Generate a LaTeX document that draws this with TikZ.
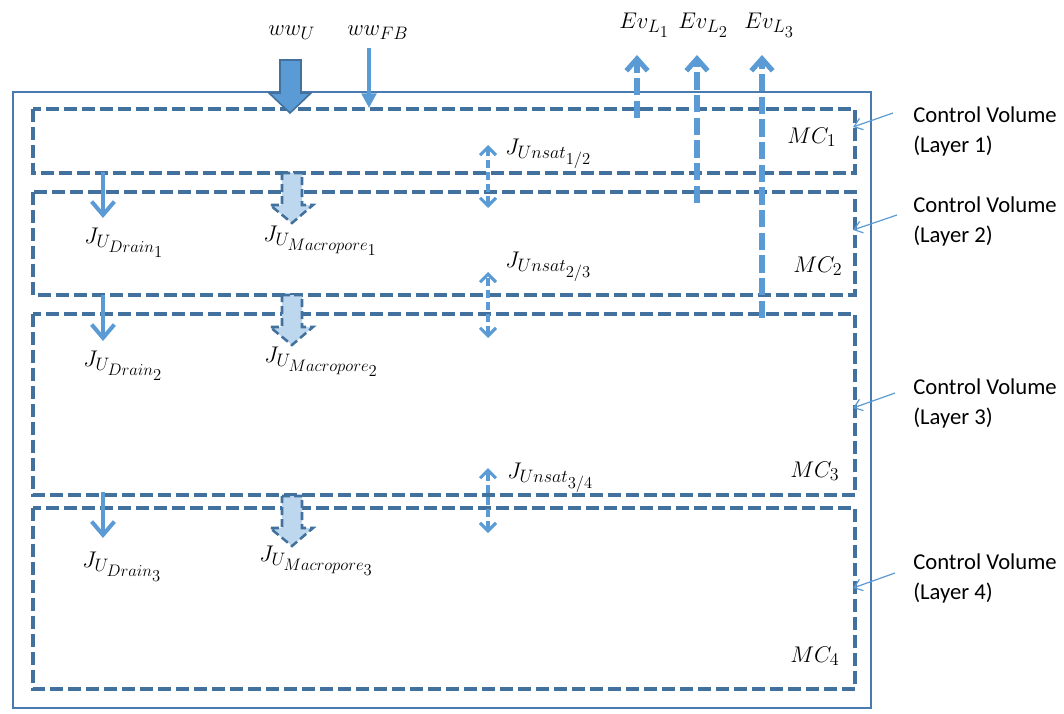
\RequirePackage{fix-cm}
\documentclass[tikz,border=0pt]{standalone}
\usepackage{fontspec}
\setmainfont{Carlito}
\usetikzlibrary{arrows.meta}
\DeclareMathSizes{17}{17}{13.5}{12.5}
\definecolor{boxc}{HTML}{41719C}
\definecolor{outc}{HTML}{4A7BB0}
\definecolor{arrc}{HTML}{5B9BD5}
\definecolor{lightc}{HTML}{BDD7EE}
\begin{document}
\begin{tikzpicture}[x=0.75pt,y=-0.75pt,
  outer/.style={draw=outc,line width=1.9pt},
  cvbox/.style={draw=boxc,line width=2.5pt,dash pattern=on 9.5pt off 4pt},
  lbl/.style={anchor=base west,inner sep=0pt,font=\fontsize{17}{20}\selectfont},
  cvlbl/.style={anchor=west,align=left,inner sep=0pt,font=\fontsize{17}{22.5}\selectfont},
  evarrow/.style={draw=arrc,line width=3.8pt,dash pattern=on 13pt off 4pt,-{Straight Barb[length=9pt,width=16pt]}},
  drainarrow/.style={draw=arrc,line width=3pt,-{Straight Barb[length=10pt,width=17pt]}},
  unsatarrow/.style={draw=arrc,line width=2.3pt,dash pattern=on 6pt off 3pt,{Straight Barb[length=6pt,width=12pt]}-{Straight Barb[length=6pt,width=12pt]}},
  fbarrow/.style={draw=arrc,line width=2.5pt,-{Triangle[length=11pt,width=11pt]}},
  cvarrow/.style={draw=arrc,line width=0.9pt,-{Straight Barb[length=6pt,width=9pt]}},
  bigarrow/.style={fill=arrc,draw=boxc,line width=1.2pt,line join=miter},
  macroarrow/.style={fill=lightc,draw=boxc,line width=1.9pt,dash pattern=on 6pt off 3pt}
]
\useasboundingbox (0,0) rectangle (1064,714);

% outer box
\draw[outer] (13,92) rectangle (871,708);

% control volumes
\draw[cvbox] (33,109) rectangle (855,173);
\draw[cvbox] (33,192) rectangle (855,295);
\draw[cvbox] (33,314) rectangle (855,495);
\draw[cvbox] (33,508) rectangle (855,689);

% ww_U block arrow
\draw[bigarrow] (280,60) -- (301,60) -- (301,93) -- (311,93) -- (290,113) -- (269,93) -- (280,93) -- cycle;
\node[lbl] (wwu) at (268,35) {$ww_U$};

% ww_FB
\node[lbl] (wwfb) at (347,35) {$ww_{FB}$};
\coordinate (fbs) at (369,48);
\coordinate (fbe) at (369,108);
\draw[fbarrow] (fbs) -- (fbe);

% Ev arrows
\coordinate (ev1s) at (637,118); \coordinate (ev1e) at (637,55);
\coordinate (ev2s) at (697,203); \coordinate (ev2e) at (697,55);
\coordinate (ev3s) at (762,318); \coordinate (ev3e) at (762,55);
\draw[evarrow] (ev1s) -- (ev1e);
\draw[evarrow] (ev2s) -- (ev2e);
\draw[evarrow] (ev3s) -- (ev3e);
\node[lbl] (evl1) at (619,28) {$Ev_{L_1}$};
\node[lbl] (evl2) at (678,28) {$Ev_{L_2}$};
\node[lbl] (evl3) at (744,28) {$Ev_{L_3}$};

% Drain arrows
\coordinate (d1s) at (103,172); \coordinate (d1e) at (103,218);
\coordinate (d2s) at (103,295); \coordinate (d2e) at (103,341);
\coordinate (d3s) at (103,492); \coordinate (d3e) at (103,538);
\draw[drainarrow] (d1s) -- (d1e);
\draw[drainarrow] (d2s) -- (d2e);
\draw[drainarrow] (d3s) -- (d3e);
\node[lbl] (dr1) at (84,243) {$J_{U_{Drain_1}}$};
\node[lbl] (dr2) at (83,366) {$J_{U_{Drain_2}}$};
\node[lbl] (dr3) at (82,567) {$J_{U_{Drain_3}}$};

% Macropore arrows
\foreach \t in {173,295,496}{
  \draw[macroarrow] (282,\t) -- (302,\t) -- (302,\t+32) -- (313,\t+32) -- (292,\t+50) -- (270,\t+32) -- (282,\t+32) -- cycle;
}
\node[lbl] (mp1) at (263,241) {$J_{U_{Macropore_1}}$};
\node[lbl] (mp2) at (264,362) {$J_{U_{Macropore_2}}$};
\node[lbl] (mp3) at (259,561) {$J_{U_{Macropore_3}}$};

% Unsat arrows
\coordinate (u1s) at (488,208); \coordinate (u1e) at (488,145);
\coordinate (u2s) at (488,338); \coordinate (u2e) at (488,272);
\coordinate (u3s) at (488,533); \coordinate (u3e) at (488,468);
\draw[unsatarrow] (u1s) -- (u1e);
\draw[unsatarrow] (u2s) -- (u2e);
\draw[unsatarrow] (u3s) -- (u3e);
\node[lbl] (un1) at (505,154) {$J_{Unsat_{1/2}}$};
\node[lbl] (un2) at (505,267) {$J_{Unsat_{2/3}}$};
\node[lbl] (un3) at (507,478) {$J_{Unsat_{3/4}}$};

% MC labels
\node[lbl] (mc1) at (787,143) {$MC_1$};
\node[lbl] (mc2) at (793,272) {$MC_2$};
\node[lbl] (mc3) at (790,477) {$MC_3$};
\node[lbl] (mc4) at (790,662) {$MC_4$};

% Control volume labels
\node[cvlbl] (cv1) at (913,131) {Control Volume\\(Layer 1)};
\node[cvlbl] (cv2) at (913,221) {Control Volume\\(Layer 2)};
\node[cvlbl] (cv3) at (913,403) {Control Volume\\(Layer 3)};
\node[cvlbl] (cv4) at (913,578) {Control Volume\\(Layer 4)};
\coordinate (c1s) at (893,113); \coordinate (c1e) at (853,127);
\coordinate (c2s) at (897,215); \coordinate (c2e) at (853,230);
\coordinate (c3s) at (895,393); \coordinate (c3e) at (853,408);
\coordinate (c4s) at (895,573); \coordinate (c4e) at (853,588);
\draw[cvarrow] (c1s) -- (c1e);
\draw[cvarrow] (c2s) -- (c2e);
\draw[cvarrow] (c3s) -- (c3e);
\draw[cvarrow] (c4s) -- (c4e);
\end{tikzpicture}
\end{document}
